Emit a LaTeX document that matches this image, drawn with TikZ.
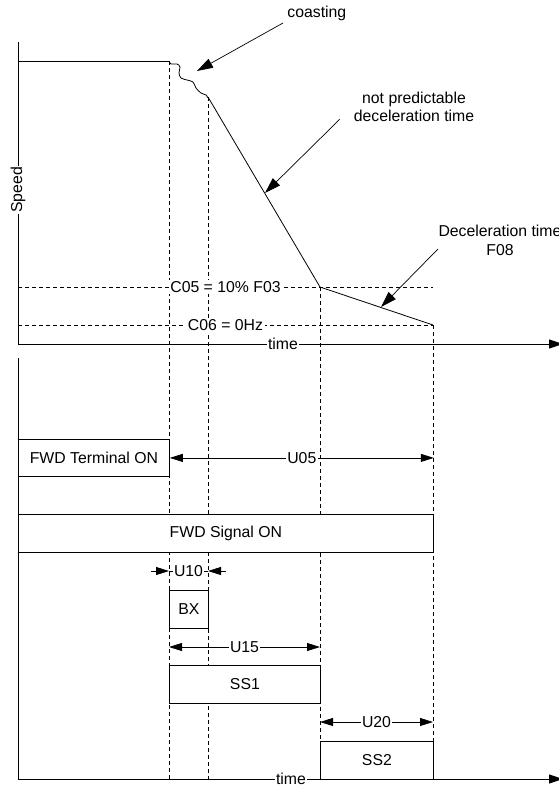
\documentclass[tikz,border=0pt]{standalone}
\usepackage{fontspec}
\setmainfont{Liberation Sans}
\usetikzlibrary{arrows.meta}
\begin{document}
\begin{tikzpicture}[x=1pt,y=-1pt,
  font=\fontsize{15.8}{18.5}\selectfont,
  line width=0.8pt,
  axis/.style={line width=1pt},
  guide/.style={dash pattern=on 4pt off 3pt, line width=0.7pt},
  lab/.style={fill=white, inner sep=1.5pt},
  sigbox/.style={draw, fill=white, inner sep=0pt, anchor=north west},
  axtip/.style={-{Triangle[length=14pt,width=9pt]}},
  dimarr/.style={{Triangle[length=13pt,width=8pt]}-{Triangle[length=13pt,width=8pt]}},
  onetip/.style={-{Triangle[length=13pt,width=8pt]}},
  ann/.style={-{Triangle[length=16pt,width=10pt]}, line width=0.7pt}
]
\useasboundingbox (0,0) rectangle (558,785);
% key points
\coordinate (ytop) at (18,42);
\coordinate (origin) at (18,344);
\coordinate (xend) at (563,344);
\coordinate (p0) at (18,61);
\coordinate (p1) at (169,61);
\coordinate (p2) at (208,97);
\coordinate (p3) at (320,287);
\coordinate (p4) at (433,325);
\coordinate (c05l) at (18,287);
\coordinate (c05r) at (433,287);
\coordinate (c06l) at (18,325);
\coordinate (ltop) at (18,358);
\coordinate (origin2) at (18,779);
\coordinate (xend2) at (563,779);
\coordinate (ga) at (169,779);
\coordinate (gb) at (208,779);
\coordinate (gc) at (320,779);
\coordinate (gd) at (433,779);

% guide lines
\draw[guide] (p1) -- (ga);
\draw[guide] (p2) -- (gb);
\draw[guide] (p3) -- (gc);
\draw[guide] (p4) -- (gd);
\draw[guide] (c05l) -- (c05r) node[lab, midway] (c05) {C05 = 10\% F03};
\draw[guide] (c06l) -- (p4) node[lab, midway] (c06) {C06 = 0Hz};

% speed profile
\draw (p0) -- (p1);
\draw plot[smooth, tension=0.55] coordinates {(169,61) (171,64) (177,64) (180,67) (179,73) (181,78) (187,80) (193,82) (196,88) (201,93) (206,95) (208,98)};
\draw (p2) -- (p3) -- (p4);

% upper axes
\draw[axis] (origin) -- (ytop);
\node[lab, rotate=90] (speed) at (18,190) {Speed};
\draw[axis, axtip] (origin) -- (xend);
\node[lab] (time1) at (283,344) {time};

% lower axes
\draw[axis] (ltop) -- (origin2);
\draw[axis, axtip] (origin2) -- (xend2);
\node[lab] (time2) at (291,779) {time};

% signal boxes
\node[sigbox, minimum width=151pt, minimum height=37pt] (term) at (18,439) {FWD Terminal ON};
\node[sigbox, minimum width=415pt, minimum height=38pt] (sig) at (18,514) {FWD Signal ON};
\node[sigbox, minimum width=39pt, minimum height=38pt] (bx) at (169,590) {BX};
\node[sigbox, minimum width=151pt, minimum height=38pt] (ss1) at (169,665) {SS1};
\node[sigbox, minimum width=113pt, minimum height=38pt] (ss2) at (320,741) {SS2};

% dimension arrows
\draw[dimarr] (term.east) -- (term.east -| sig.east) node[lab, midway] (u05) {U05};
\coordinate (u10l) at (151,571);
\coordinate (u10a) at (169,571);
\coordinate (u10b) at (208,571);
\coordinate (u10r) at (226,571);
\draw (u10a) -- (u10b);
\draw[onetip] (u10l) -- (u10a);
\draw[onetip] (u10r) -- (u10b);
\node[lab, inner xsep=1pt] (u10) at (188.5,571) {U10};
\coordinate (u15a) at (169,647);
\coordinate (u15b) at (320,647);
\draw[dimarr] (u15a) -- (u15b) node[lab, midway] (u15) {U15};
\coordinate (u20a) at (320,722);
\coordinate (u20b) at (433,722);
\draw[dimarr] (u20a) -- (u20b) node[lab, midway] (u20) {U20};

% annotations
\node[anchor=base west, inner sep=0pt] (coast) at (287,17.5) {coasting};
\coordinate (coastfrom) at (283,23);
\coordinate (coastto) at (197,71);
\draw[ann] (coastfrom) -- (coastto);

\node[anchor=base, inner sep=0pt] (np1) at (414,103.5) {not predictable};
\node[anchor=base, inner sep=0pt] (np2) at (414,121.5) {deceleration time};
\coordinate (npfrom) at (340,119);
\coordinate (npto) at (265,193);
\draw[ann] (npfrom) -- (npto);

\node[anchor=base, inner sep=0pt] (dt1) at (500,236.5) {Deceleration time};
\node[anchor=base, inner sep=0pt] (dt2) at (500,255) {F08};
\coordinate (dtfrom) at (438,249);
\coordinate (dtto) at (381,307);
\draw[ann] (dtfrom) -- (dtto);
\end{tikzpicture}
\end{document}
